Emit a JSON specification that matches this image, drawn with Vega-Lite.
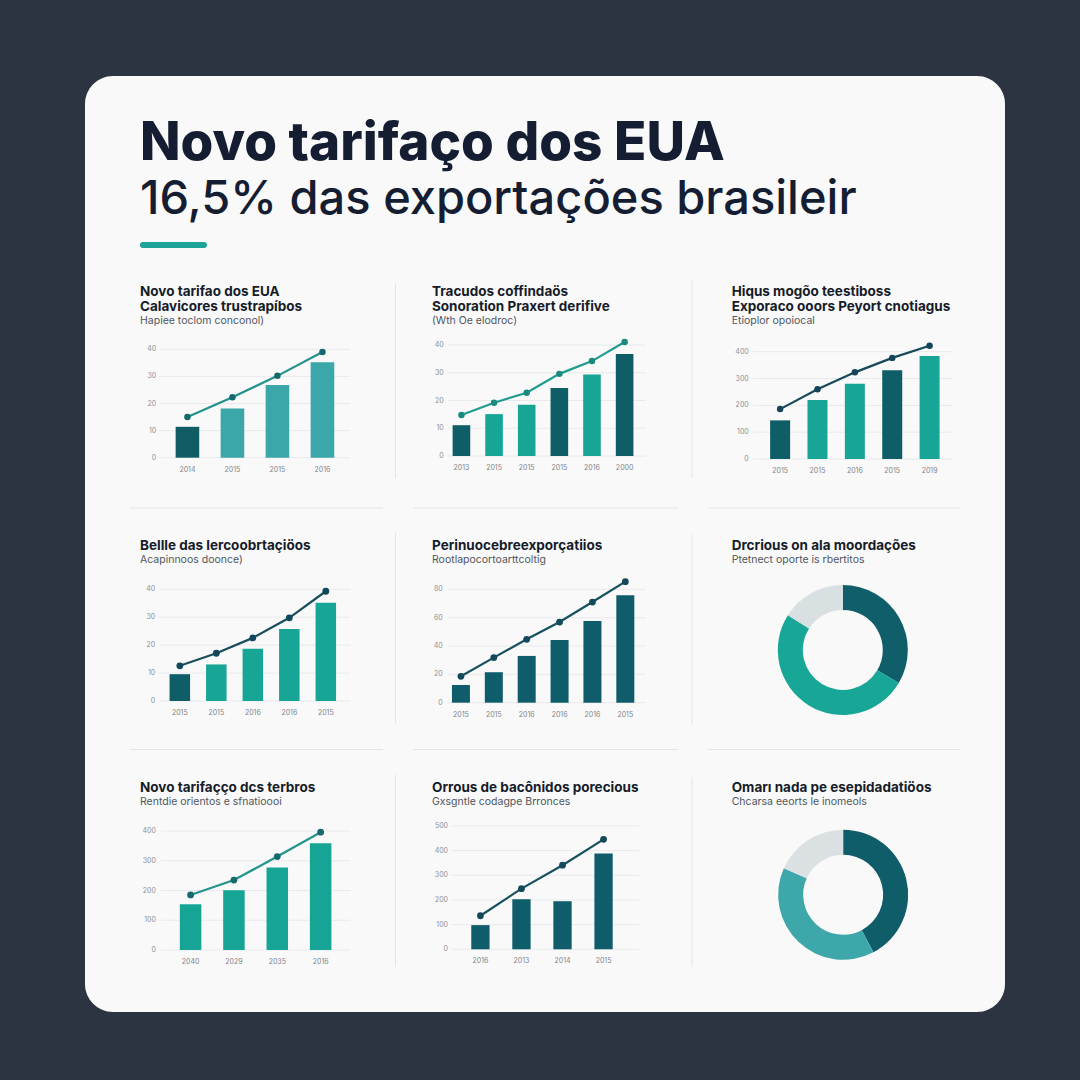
{
  "$schema": "https://vega.github.io/schema/vega-lite/v6.json",
  "background": "#2c3442",
  "padding": {"left": 85, "top": 76, "right": 75, "bottom": 68},
  "width": 920,
  "height": 936,
  "config": {
    "font": "Inter",
    "view": {"stroke": null, "fill": "#f9f9f9", "cornerRadius": 28},
    "text": {"font": "Inter"}
  },
  "title": {
    "text": "Novo tarifaço dos EUA",
    "subtitle": "16,5% das exportações brasileir",
    "orient": "bottom", "anchor": "start", "frame": "group",
    "offset": -894, "dx": 55,
    "font": "Inter", "fontSize": 53, "fontWeight": 800, "color": "#141d31",
    "subtitleFont": "Inter", "subtitleFontSize": 47, "subtitleFontWeight": 500, "subtitleColor": "#141d31", "subtitlePadding": 6
  },
  "datasets": {
    "um": [{"n": 1}],
    "grade40": [{"v": 0}, {"v": 10}, {"v": 20}, {"v": 30}, {"v": 40}],
    "grade80": [{"v": 0}, {"v": 20}, {"v": 40}, {"v": 60}, {"v": 80}],
    "grade400": [{"v": 0}, {"v": 100}, {"v": 200}, {"v": 300}, {"v": 400}],
    "grade500": [{"v": 0}, {"v": 100}, {"v": 200}, {"v": 300}, {"v": 400}, {"v": 500}]
  },
  "resolve": {"scale": {"x": "independent", "y": "independent", "color": "independent", "theta": "independent"}},
  "layer": [
    {
      "data": {"name": "um"},
      "layer": [
        {"mark": {"type": "rule", "color": "#1ea496", "strokeWidth": 6, "strokeCap": "round"},
         "encoding": {"x": {"datum": 0.063, "type": "quantitative", "scale": {"domain": [0, 1], "nice": false, "zero": false}, "axis": null}, "x2": {"datum": 0.1293},
                      "y": {"datum": 0.8194, "type": "quantitative", "scale": {"domain": [0, 1], "nice": false, "zero": false}, "axis": null}}},
        {"mark": {"type": "rule", "color": "#e3e5e8", "strokeWidth": 1},
         "encoding": {"x": {"datum": 0.3375, "type": "quantitative", "scale": {"domain": [0, 1], "nice": false, "zero": false}, "axis": null},
                      "y": {"datum": 0.77885, "type": "quantitative", "scale": {"domain": [0, 1], "nice": false, "zero": false}, "axis": null}, "y2": {"datum": 0.57051}}},
        {"mark": {"type": "rule", "color": "#e3e5e8", "strokeWidth": 1},
         "encoding": {"x": {"datum": 0.3375, "type": "quantitative", "scale": {"domain": [0, 1], "nice": false, "zero": false}, "axis": null},
                      "y": {"datum": 0.51175, "type": "quantitative", "scale": {"domain": [0, 1], "nice": false, "zero": false}, "axis": null}, "y2": {"datum": 0.30876}}},
        {"mark": {"type": "rule", "color": "#e3e5e8", "strokeWidth": 1},
         "encoding": {"x": {"datum": 0.3375, "type": "quantitative", "scale": {"domain": [0, 1], "nice": false, "zero": false}, "axis": null},
                      "y": {"datum": 0.25321, "type": "quantitative", "scale": {"domain": [0, 1], "nice": false, "zero": false}, "axis": null}, "y2": {"datum": 0.04808}}},
        {"mark": {"type": "rule", "color": "#e3e5e8", "strokeWidth": 1},
         "encoding": {"x": {"datum": 0.65978, "type": "quantitative", "scale": {"domain": [0, 1], "nice": false, "zero": false}, "axis": null},
                      "y": {"datum": 0.78205, "type": "quantitative", "scale": {"domain": [0, 1], "nice": false, "zero": false}, "axis": null}, "y2": {"datum": 0.57051}}},
        {"mark": {"type": "rule", "color": "#e3e5e8", "strokeWidth": 1},
         "encoding": {"x": {"datum": 0.65978, "type": "quantitative", "scale": {"domain": [0, 1], "nice": false, "zero": false}, "axis": null},
                      "y": {"datum": 0.50962, "type": "quantitative", "scale": {"domain": [0, 1], "nice": false, "zero": false}, "axis": null}, "y2": {"datum": 0.30662}}},
        {"mark": {"type": "rule", "color": "#e3e5e8", "strokeWidth": 1},
         "encoding": {"x": {"datum": 0.65978, "type": "quantitative", "scale": {"domain": [0, 1], "nice": false, "zero": false}, "axis": null},
                      "y": {"datum": 0.25107, "type": "quantitative", "scale": {"domain": [0, 1], "nice": false, "zero": false}, "axis": null}, "y2": {"datum": 0.04808}}},
        {"mark": {"type": "rule", "color": "#e3e5e8", "strokeWidth": 1},
         "encoding": {"x": {"datum": 0.04891, "type": "quantitative", "scale": {"domain": [0, 1], "nice": false, "zero": false}, "axis": null}, "x2": {"datum": 0.32391},
                      "y": {"datum": 0.53846, "type": "quantitative", "scale": {"domain": [0, 1], "nice": false, "zero": false}, "axis": null}}},
        {"mark": {"type": "rule", "color": "#e3e5e8", "strokeWidth": 1},
         "encoding": {"x": {"datum": 0.35652, "type": "quantitative", "scale": {"domain": [0, 1], "nice": false, "zero": false}, "axis": null}, "x2": {"datum": 0.64457},
                      "y": {"datum": 0.53846, "type": "quantitative", "scale": {"domain": [0, 1], "nice": false, "zero": false}, "axis": null}}},
        {"mark": {"type": "rule", "color": "#e3e5e8", "strokeWidth": 1},
         "encoding": {"x": {"datum": 0.67717, "type": "quantitative", "scale": {"domain": [0, 1], "nice": false, "zero": false}, "axis": null}, "x2": {"datum": 0.95109},
                      "y": {"datum": 0.53846, "type": "quantitative", "scale": {"domain": [0, 1], "nice": false, "zero": false}, "axis": null}}},
        {"mark": {"type": "rule", "color": "#e3e5e8", "strokeWidth": 1},
         "encoding": {"x": {"datum": 0.04891, "type": "quantitative", "scale": {"domain": [0, 1], "nice": false, "zero": false}, "axis": null}, "x2": {"datum": 0.32391},
                      "y": {"datum": 0.28045, "type": "quantitative", "scale": {"domain": [0, 1], "nice": false, "zero": false}, "axis": null}}},
        {"mark": {"type": "rule", "color": "#e3e5e8", "strokeWidth": 1},
         "encoding": {"x": {"datum": 0.35652, "type": "quantitative", "scale": {"domain": [0, 1], "nice": false, "zero": false}, "axis": null}, "x2": {"datum": 0.64457},
                      "y": {"datum": 0.28045, "type": "quantitative", "scale": {"domain": [0, 1], "nice": false, "zero": false}, "axis": null}}},
        {"mark": {"type": "rule", "color": "#e3e5e8", "strokeWidth": 1},
         "encoding": {"x": {"datum": 0.67717, "type": "quantitative", "scale": {"domain": [0, 1], "nice": false, "zero": false}, "axis": null}, "x2": {"datum": 0.95109},
                      "y": {"datum": 0.28045, "type": "quantitative", "scale": {"domain": [0, 1], "nice": false, "zero": false}, "axis": null}}},

        {"mark": {"type": "text", "align": "left", "baseline": "alphabetic", "fontSize": 13.5, "fontWeight": 700, "color": "#161c29", "lineHeight": 15},
         "encoding": {"x": {"datum": 0.05978, "type": "quantitative", "scale": {"domain": [0, 1], "nice": false, "zero": false}, "axis": null},
                      "y": {"datum": 0.76549, "type": "quantitative", "scale": {"domain": [0, 1], "nice": false, "zero": false}, "axis": null},
                      "text": {"value": ["Novo tarifao dos EUA", "Calavicores trustrapíbos"]}}},
        {"mark": {"type": "text", "align": "left", "baseline": "alphabetic", "fontSize": 10.5, "color": "#50555c"},
         "encoding": {"x": {"datum": 0.05978, "type": "quantitative", "scale": {"domain": [0, 1], "nice": false, "zero": false}, "axis": null},
                      "y": {"datum": 0.73504, "type": "quantitative", "scale": {"domain": [0, 1], "nice": false, "zero": false}, "axis": null},
                      "text": {"value": "Hapiee toclom conconol)"}}},
        {"mark": {"type": "text", "align": "left", "baseline": "alphabetic", "fontSize": 13.5, "fontWeight": 700, "color": "#161c29", "lineHeight": 15},
         "encoding": {"x": {"datum": 0.37717, "type": "quantitative", "scale": {"domain": [0, 1], "nice": false, "zero": false}, "axis": null},
                      "y": {"datum": 0.76549, "type": "quantitative", "scale": {"domain": [0, 1], "nice": false, "zero": false}, "axis": null},
                      "text": {"value": ["Tracudos coffindaös", "Sonoration Praxert derifive"]}}},
        {"mark": {"type": "text", "align": "left", "baseline": "alphabetic", "fontSize": 10.5, "color": "#50555c"},
         "encoding": {"x": {"datum": 0.37717, "type": "quantitative", "scale": {"domain": [0, 1], "nice": false, "zero": false}, "axis": null},
                      "y": {"datum": 0.73504, "type": "quantitative", "scale": {"domain": [0, 1], "nice": false, "zero": false}, "axis": null},
                      "text": {"value": "(Wth Oe elodroc)"}}},
        {"mark": {"type": "text", "align": "left", "baseline": "alphabetic", "fontSize": 13.5, "fontWeight": 700, "color": "#161c29", "lineHeight": 15},
         "encoding": {"x": {"datum": 0.70293, "type": "quantitative", "scale": {"domain": [0, 1], "nice": false, "zero": false}, "axis": null},
                      "y": {"datum": 0.76549, "type": "quantitative", "scale": {"domain": [0, 1], "nice": false, "zero": false}, "axis": null},
                      "text": {"value": ["Hiqus mogõo teestiboss", "Exporaco ooors Peyort cnotiagus"]}}},
        {"mark": {"type": "text", "align": "left", "baseline": "alphabetic", "fontSize": 10.5, "color": "#50555c"},
         "encoding": {"x": {"datum": 0.70293, "type": "quantitative", "scale": {"domain": [0, 1], "nice": false, "zero": false}, "axis": null},
                      "y": {"datum": 0.73504, "type": "quantitative", "scale": {"domain": [0, 1], "nice": false, "zero": false}, "axis": null},
                      "text": {"value": "Etioplor opoiocal"}}},

        {"mark": {"type": "text", "align": "left", "baseline": "alphabetic", "fontSize": 13.5, "fontWeight": 700, "color": "#161c29"},
         "encoding": {"x": {"datum": 0.05978, "type": "quantitative", "scale": {"domain": [0, 1], "nice": false, "zero": false}, "axis": null},
                      "y": {"datum": 0.49359, "type": "quantitative", "scale": {"domain": [0, 1], "nice": false, "zero": false}, "axis": null},
                      "text": {"value": "Bellle das lercoobrtaçiöos"}}},
        {"mark": {"type": "text", "align": "left", "baseline": "alphabetic", "fontSize": 10.5, "color": "#50555c"},
         "encoding": {"x": {"datum": 0.05978, "type": "quantitative", "scale": {"domain": [0, 1], "nice": false, "zero": false}, "axis": null},
                      "y": {"datum": 0.47938, "type": "quantitative", "scale": {"domain": [0, 1], "nice": false, "zero": false}, "axis": null},
                      "text": {"value": "Acapinnoos doonce)"}}},
        {"mark": {"type": "text", "align": "left", "baseline": "alphabetic", "fontSize": 13.5, "fontWeight": 700, "color": "#161c29"},
         "encoding": {"x": {"datum": 0.37717, "type": "quantitative", "scale": {"domain": [0, 1], "nice": false, "zero": false}, "axis": null},
                      "y": {"datum": 0.49359, "type": "quantitative", "scale": {"domain": [0, 1], "nice": false, "zero": false}, "axis": null},
                      "text": {"value": "Perinuocebreexporçatiios"}}},
        {"mark": {"type": "text", "align": "left", "baseline": "alphabetic", "fontSize": 10.5, "color": "#50555c"},
         "encoding": {"x": {"datum": 0.37717, "type": "quantitative", "scale": {"domain": [0, 1], "nice": false, "zero": false}, "axis": null},
                      "y": {"datum": 0.47938, "type": "quantitative", "scale": {"domain": [0, 1], "nice": false, "zero": false}, "axis": null},
                      "text": {"value": "Rootlapocortoarttcoltig"}}},
        {"mark": {"type": "text", "align": "left", "baseline": "alphabetic", "fontSize": 13.5, "fontWeight": 700, "color": "#161c29"},
         "encoding": {"x": {"datum": 0.70293, "type": "quantitative", "scale": {"domain": [0, 1], "nice": false, "zero": false}, "axis": null},
                      "y": {"datum": 0.49359, "type": "quantitative", "scale": {"domain": [0, 1], "nice": false, "zero": false}, "axis": null},
                      "text": {"value": "Drcrious on ala moordações"}}},
        {"mark": {"type": "text", "align": "left", "baseline": "alphabetic", "fontSize": 10.5, "color": "#50555c"},
         "encoding": {"x": {"datum": 0.70293, "type": "quantitative", "scale": {"domain": [0, 1], "nice": false, "zero": false}, "axis": null},
                      "y": {"datum": 0.47938, "type": "quantitative", "scale": {"domain": [0, 1], "nice": false, "zero": false}, "axis": null},
                      "text": {"value": "Ptetnect oporte is rbertitos"}}},

        {"mark": {"type": "text", "align": "left", "baseline": "alphabetic", "fontSize": 13.5, "fontWeight": 700, "color": "#161c29"},
         "encoding": {"x": {"datum": 0.05978, "type": "quantitative", "scale": {"domain": [0, 1], "nice": false, "zero": false}, "axis": null},
                      "y": {"datum": 0.23536, "type": "quantitative", "scale": {"domain": [0, 1], "nice": false, "zero": false}, "axis": null},
                      "text": {"value": "Novo tarifaçço dcs terbros"}}},
        {"mark": {"type": "text", "align": "left", "baseline": "alphabetic", "fontSize": 10.5, "color": "#50555c"},
         "encoding": {"x": {"datum": 0.05978, "type": "quantitative", "scale": {"domain": [0, 1], "nice": false, "zero": false}, "axis": null},
                      "y": {"datum": 0.22115, "type": "quantitative", "scale": {"domain": [0, 1], "nice": false, "zero": false}, "axis": null},
                      "text": {"value": "Rentdie orientos e sfnatioooi"}}},
        {"mark": {"type": "text", "align": "left", "baseline": "alphabetic", "fontSize": 13.5, "fontWeight": 700, "color": "#161c29"},
         "encoding": {"x": {"datum": 0.37717, "type": "quantitative", "scale": {"domain": [0, 1], "nice": false, "zero": false}, "axis": null},
                      "y": {"datum": 0.23536, "type": "quantitative", "scale": {"domain": [0, 1], "nice": false, "zero": false}, "axis": null},
                      "text": {"value": "Orrous de bacônidos porecious"}}},
        {"mark": {"type": "text", "align": "left", "baseline": "alphabetic", "fontSize": 10.5, "color": "#50555c"},
         "encoding": {"x": {"datum": 0.37717, "type": "quantitative", "scale": {"domain": [0, 1], "nice": false, "zero": false}, "axis": null},
                      "y": {"datum": 0.22115, "type": "quantitative", "scale": {"domain": [0, 1], "nice": false, "zero": false}, "axis": null},
                      "text": {"value": "Gxsgntle codagpe Brronces"}}},
        {"mark": {"type": "text", "align": "left", "baseline": "alphabetic", "fontSize": 13.5, "fontWeight": 700, "color": "#161c29"},
         "encoding": {"x": {"datum": 0.70293, "type": "quantitative", "scale": {"domain": [0, 1], "nice": false, "zero": false}, "axis": null},
                      "y": {"datum": 0.23536, "type": "quantitative", "scale": {"domain": [0, 1], "nice": false, "zero": false}, "axis": null},
                      "text": {"value": "Omarı nada pe esepidadatiöos"}}},
        {"mark": {"type": "text", "align": "left", "baseline": "alphabetic", "fontSize": 10.5, "color": "#50555c"},
         "encoding": {"x": {"datum": 0.70293, "type": "quantitative", "scale": {"domain": [0, 1], "nice": false, "zero": false}, "axis": null},
                      "y": {"datum": 0.22115, "type": "quantitative", "scale": {"domain": [0, 1], "nice": false, "zero": false}, "axis": null},
                      "text": {"value": "Chcarsa eeorts le inomeols"}}}
      ]
    },
    {
      "data": {"values": [
        {"i": 1, "ano": "2014", "barra": 11.4, "linha": 15.0, "serie": "A"},
        {"i": 2, "ano": "2015", "barra": 18.2, "linha": 22.3, "serie": "B"},
        {"i": 3, "ano": "2015", "barra": 26.8, "linha": 30.2, "serie": "B"},
        {"i": 4, "ano": "2016", "barra": 35.2, "linha": 39.0, "serie": "B"}
      ]},
      "layer": [
        {"data": {"name": "grade40"}, "mark": {"type": "rule", "color": "#e8eaec", "strokeWidth": 1},
         "encoding": {"y": {"field": "v", "type": "quantitative", "scale": {"domain": [-204.54, 140.85], "nice": false, "zero": false}, "axis": null},
                      "x": {"datum": 0.374, "type": "quantitative", "scale": {"domain": [-1.165, 19.055], "nice": false, "zero": false}, "axis": null},
                      "x2": {"datum": 4.615}}},
        {"data": {"name": "grade40"}, "mark": {"type": "text", "align": "right", "baseline": "middle", "dx": -3, "fontSize": 7, "color": "#8c9197"},
         "encoding": {"y": {"field": "v", "type": "quantitative", "scale": {"domain": [-204.54, 140.85], "nice": false, "zero": false}, "axis": null},
                      "x": {"datum": 0.374, "type": "quantitative", "scale": {"domain": [-1.165, 19.055], "nice": false, "zero": false}, "axis": null},
                      "text": {"field": "v", "type": "quantitative"}}},
        {"mark": {"type": "bar", "width": 23.6},
         "encoding": {"x": {"field": "i", "type": "quantitative", "scale": {"domain": [-1.165, 19.055], "nice": false, "zero": false}, "axis": null},
                      "y": {"field": "barra", "type": "quantitative", "scale": {"domain": [-204.54, 140.85], "nice": false, "zero": false}, "axis": null},
                      "y2": {"datum": 0},
                      "color": {"field": "serie", "type": "nominal", "scale": {"domain": ["A", "B"], "range": ["#0f5c63", "#3ba7a8"]}, "legend": null}}},
        {"mark": {"type": "line", "color": "#23918c", "strokeWidth": 2.2, "point": {"filled": true, "size": 42, "color": "#14696d"}},
         "encoding": {"x": {"field": "i", "type": "quantitative", "scale": {"domain": [-1.165, 19.055], "nice": false, "zero": false}, "axis": null},
                      "y": {"field": "linha", "type": "quantitative", "scale": {"domain": [-204.54, 140.85], "nice": false, "zero": false}, "axis": null}}},
        {"mark": {"type": "text", "baseline": "middle", "dy": 12, "fontSize": 7, "color": "#80858b"},
         "encoding": {"x": {"field": "i", "type": "quantitative", "scale": {"domain": [-1.165, 19.055], "nice": false, "zero": false}, "axis": null},
                      "y": {"datum": 0, "type": "quantitative", "scale": {"domain": [-204.54, 140.85], "nice": false, "zero": false}, "axis": null},
                      "text": {"field": "ano"}}}
      ]
    },
    {
      "data": {"values": [
        {"i": 1, "ano": "2013", "barra": 11.1, "linha": 14.8, "serie": "A"},
        {"i": 2, "ano": "2015", "barra": 15.1, "linha": 19.2, "serie": "B"},
        {"i": 3, "ano": "2015", "barra": 18.5, "linha": 22.8, "serie": "B"},
        {"i": 4, "ano": "2015", "barra": 24.5, "linha": 29.6, "serie": "A"},
        {"i": 5, "ano": "2016", "barra": 29.4, "linha": 34.2, "serie": "B"},
        {"i": 6, "ano": "2000", "barra": 36.8, "linha": 41.1, "serie": "A"}
      ]},
      "layer": [
        {"data": {"name": "grade40"}, "mark": {"type": "rule", "color": "#e8eaec", "strokeWidth": 1},
         "encoding": {"y": {"field": "v", "type": "quantitative", "scale": {"domain": [-200.36, 136.94], "nice": false, "zero": false}, "axis": null},
                      "x": {"datum": 0.582, "type": "quantitative", "scale": {"domain": [-10.379, 17.5], "nice": false, "zero": false}, "axis": null},
                      "x2": {"datum": 6.642}}},
        {"data": {"name": "grade40"}, "mark": {"type": "text", "align": "right", "baseline": "middle", "dx": -4, "fontSize": 7, "color": "#8c9197"},
         "encoding": {"y": {"field": "v", "type": "quantitative", "scale": {"domain": [-200.36, 136.94], "nice": false, "zero": false}, "axis": null},
                      "x": {"datum": 0.582, "type": "quantitative", "scale": {"domain": [-10.379, 17.5], "nice": false, "zero": false}, "axis": null},
                      "text": {"field": "v", "type": "quantitative"}}},
        {"mark": {"type": "bar", "width": 17.6},
         "encoding": {"x": {"field": "i", "type": "quantitative", "scale": {"domain": [-10.379, 17.5], "nice": false, "zero": false}, "axis": null},
                      "y": {"field": "barra", "type": "quantitative", "scale": {"domain": [-200.36, 136.94], "nice": false, "zero": false}, "axis": null},
                      "y2": {"datum": 0},
                      "color": {"field": "serie", "type": "nominal", "scale": {"domain": ["A", "B"], "range": ["#0f5d66", "#17a595"]}, "legend": null}}},
        {"mark": {"type": "line", "color": "#1e9c8e", "strokeWidth": 2.2, "point": {"filled": true, "size": 42, "color": "#1a8a7f"}},
         "encoding": {"x": {"field": "i", "type": "quantitative", "scale": {"domain": [-10.379, 17.5], "nice": false, "zero": false}, "axis": null},
                      "y": {"field": "linha", "type": "quantitative", "scale": {"domain": [-200.36, 136.94], "nice": false, "zero": false}, "axis": null}}},
        {"mark": {"type": "text", "baseline": "middle", "dy": 12, "fontSize": 7, "color": "#80858b"},
         "encoding": {"x": {"field": "i", "type": "quantitative", "scale": {"domain": [-10.379, 17.5], "nice": false, "zero": false}, "axis": null},
                      "y": {"datum": 0, "type": "quantitative", "scale": {"domain": [-200.36, 136.94], "nice": false, "zero": false}, "axis": null},
                      "text": {"field": "ano"}}}
      ]
    },
    {
      "data": {"values": [
        {"i": 1, "ano": "2015", "barra": 144, "linha": 186, "serie": "A"},
        {"i": 2, "ano": "2015", "barra": 220, "linha": 260, "serie": "B"},
        {"i": 3, "ano": "2016", "barra": 281, "linha": 323, "serie": "B"},
        {"i": 4, "ano": "2015", "barra": 331, "linha": 377, "serie": "A"},
        {"i": 5, "ano": "2019", "barra": 384, "linha": 422, "serie": "B"}
      ]},
      "layer": [
        {"data": {"name": "grade400"}, "mark": {"type": "rule", "color": "#e8eaec", "strokeWidth": 1},
         "encoding": {"y": {"field": "v", "type": "quantitative", "scale": {"domain": [-2061.5, 1427.8], "nice": false, "zero": false}, "axis": null},
                      "x": {"datum": 0.267, "type": "quantitative", "scale": {"domain": [-17.467, 6.884], "nice": false, "zero": false}, "axis": null},
                      "x2": {"datum": 5.606}}},
        {"data": {"name": "grade400"}, "mark": {"type": "text", "align": "right", "baseline": "middle", "dx": -4, "fontSize": 7, "color": "#8c9197"},
         "encoding": {"y": {"field": "v", "type": "quantitative", "scale": {"domain": [-2061.5, 1427.8], "nice": false, "zero": false}, "axis": null},
                      "x": {"datum": 0.267, "type": "quantitative", "scale": {"domain": [-17.467, 6.884], "nice": false, "zero": false}, "axis": null},
                      "text": {"field": "v", "type": "quantitative"}}},
        {"mark": {"type": "bar", "width": 20},
         "encoding": {"x": {"field": "i", "type": "quantitative", "scale": {"domain": [-17.467, 6.884], "nice": false, "zero": false}, "axis": null},
                      "y": {"field": "barra", "type": "quantitative", "scale": {"domain": [-2061.5, 1427.8], "nice": false, "zero": false}, "axis": null},
                      "y2": {"datum": 0},
                      "color": {"field": "serie", "type": "nominal", "scale": {"domain": ["A", "B"], "range": ["#0f5d66", "#17a595"]}, "legend": null}}},
        {"mark": {"type": "line", "color": "#17495a", "strokeWidth": 2.2, "point": {"filled": true, "size": 42, "color": "#14455a"}},
         "encoding": {"x": {"field": "i", "type": "quantitative", "scale": {"domain": [-17.467, 6.884], "nice": false, "zero": false}, "axis": null},
                      "y": {"field": "linha", "type": "quantitative", "scale": {"domain": [-2061.5, 1427.8], "nice": false, "zero": false}, "axis": null}}},
        {"mark": {"type": "text", "baseline": "middle", "dy": 12, "fontSize": 7, "color": "#80858b"},
         "encoding": {"x": {"field": "i", "type": "quantitative", "scale": {"domain": [-17.467, 6.884], "nice": false, "zero": false}, "axis": null},
                      "y": {"datum": 0, "type": "quantitative", "scale": {"domain": [-2061.5, 1427.8], "nice": false, "zero": false}, "axis": null},
                      "text": {"field": "ano"}}}
      ]
    },
    {
      "data": {"values": [
        {"i": 1, "ano": "2015", "barra": 9.6, "linha": 12.6, "serie": "A"},
        {"i": 2, "ano": "2015", "barra": 13.1, "linha": 17.1, "serie": "B"},
        {"i": 3, "ano": "2016", "barra": 18.7, "linha": 22.6, "serie": "B"},
        {"i": 4, "ano": "2016", "barra": 25.8, "linha": 29.8, "serie": "B"},
        {"i": 5, "ano": "2015", "barra": 35.2, "linha": 39.3, "serie": "B"}
      ]},
      "layer": [
        {"data": {"name": "grade40"}, "mark": {"type": "rule", "color": "#e8eaec", "strokeWidth": 1},
         "encoding": {"y": {"field": "v", "type": "quantitative", "scale": {"domain": [-111.37, 223.81], "nice": false, "zero": false}, "axis": null},
                      "x": {"datum": 0.436, "type": "quantitative", "scale": {"domain": [-1.461, 23.472], "nice": false, "zero": false}, "axis": null},
                      "x2": {"datum": 5.675}}},
        {"data": {"name": "grade40"}, "mark": {"type": "text", "align": "right", "baseline": "middle", "dx": -4, "fontSize": 7, "color": "#8c9197"},
         "encoding": {"y": {"field": "v", "type": "quantitative", "scale": {"domain": [-111.37, 223.81], "nice": false, "zero": false}, "axis": null},
                      "x": {"datum": 0.436, "type": "quantitative", "scale": {"domain": [-1.461, 23.472], "nice": false, "zero": false}, "axis": null},
                      "text": {"field": "v", "type": "quantitative"}}},
        {"mark": {"type": "bar", "width": 20.5},
         "encoding": {"x": {"field": "i", "type": "quantitative", "scale": {"domain": [-1.461, 23.472], "nice": false, "zero": false}, "axis": null},
                      "y": {"field": "barra", "type": "quantitative", "scale": {"domain": [-111.37, 223.81], "nice": false, "zero": false}, "axis": null},
                      "y2": {"datum": 0},
                      "color": {"field": "serie", "type": "nominal", "scale": {"domain": ["A", "B"], "range": ["#0f5d66", "#17a595"]}, "legend": null}}},
        {"mark": {"type": "line", "color": "#1a4e5d", "strokeWidth": 2.2, "point": {"filled": true, "size": 46, "color": "#10485a"}},
         "encoding": {"x": {"field": "i", "type": "quantitative", "scale": {"domain": [-1.461, 23.472], "nice": false, "zero": false}, "axis": null},
                      "y": {"field": "linha", "type": "quantitative", "scale": {"domain": [-111.37, 223.81], "nice": false, "zero": false}, "axis": null}}},
        {"mark": {"type": "text", "baseline": "middle", "dy": 12, "fontSize": 7, "color": "#80858b"},
         "encoding": {"x": {"field": "i", "type": "quantitative", "scale": {"domain": [-1.461, 23.472], "nice": false, "zero": false}, "axis": null},
                      "y": {"datum": 0, "type": "quantitative", "scale": {"domain": [-111.37, 223.81], "nice": false, "zero": false}, "axis": null},
                      "text": {"field": "ano"}}}
      ]
    },
    {
      "data": {"values": [
        {"i": 1, "ano": "2015", "barra": 12.5, "linha": 18.6, "serie": "A"},
        {"i": 2, "ano": "2015", "barra": 21.5, "linha": 31.8, "serie": "A"},
        {"i": 3, "ano": "2016", "barra": 33.0, "linha": 44.7, "serie": "A"},
        {"i": 4, "ano": "2016", "barra": 44.2, "linha": 56.9, "serie": "A"},
        {"i": 5, "ano": "2016", "barra": 57.6, "linha": 71.0, "serie": "A"},
        {"i": 6, "ano": "2015", "barra": 75.8, "linha": 85.4, "serie": "A"}
      ]},
      "layer": [
        {"data": {"name": "grade80"}, "mark": {"type": "rule", "color": "#e8eaec", "strokeWidth": 1},
         "encoding": {"y": {"field": "v", "type": "quantitative", "scale": {"domain": [-218.2, 442.1], "nice": false, "zero": false}, "axis": null},
                      "x": {"datum": 0.6, "type": "quantitative", "scale": {"domain": [-10.282, 17.396], "nice": false, "zero": false}, "axis": null},
                      "x2": {"datum": 6.617}}},
        {"data": {"name": "grade80"}, "mark": {"type": "text", "align": "right", "baseline": "middle", "dx": -5, "fontSize": 7, "color": "#8c9197"},
         "encoding": {"y": {"field": "v", "type": "quantitative", "scale": {"domain": [-218.2, 442.1], "nice": false, "zero": false}, "axis": null},
                      "x": {"datum": 0.6, "type": "quantitative", "scale": {"domain": [-10.282, 17.396], "nice": false, "zero": false}, "axis": null},
                      "text": {"field": "v", "type": "quantitative"}}},
        {"mark": {"type": "bar", "width": 18},
         "encoding": {"x": {"field": "i", "type": "quantitative", "scale": {"domain": [-10.282, 17.396], "nice": false, "zero": false}, "axis": null},
                      "y": {"field": "barra", "type": "quantitative", "scale": {"domain": [-218.2, 442.1], "nice": false, "zero": false}, "axis": null},
                      "y2": {"datum": 0},
                      "color": {"field": "serie", "type": "nominal", "scale": {"domain": ["A", "B"], "range": ["#0f5d6b", "#17a595"]}, "legend": null}}},
        {"mark": {"type": "line", "color": "#17505f", "strokeWidth": 2.2, "point": {"filled": true, "size": 46, "color": "#124a5b"}},
         "encoding": {"x": {"field": "i", "type": "quantitative", "scale": {"domain": [-10.282, 17.396], "nice": false, "zero": false}, "axis": null},
                      "y": {"field": "linha", "type": "quantitative", "scale": {"domain": [-218.2, 442.1], "nice": false, "zero": false}, "axis": null}}},
        {"mark": {"type": "text", "baseline": "middle", "dy": 12, "fontSize": 7, "color": "#80858b"},
         "encoding": {"x": {"field": "i", "type": "quantitative", "scale": {"domain": [-10.282, 17.396], "nice": false, "zero": false}, "axis": null},
                      "y": {"datum": 0, "type": "quantitative", "scale": {"domain": [-218.2, 442.1], "nice": false, "zero": false}, "axis": null},
                      "text": {"field": "ano"}}}
      ]
    },
    {
      "data": {"values": [
        {"fatia": "A", "valor": 33.5, "ordem": 1},
        {"fatia": "B", "valor": 50.5, "ordem": 2},
        {"fatia": "C", "valor": 16.0, "ordem": 3}
      ]},
      "mark": {"type": "arc", "radius": 65, "innerRadius": 40},
      "encoding": {
        "x": {"datum": 0.8237, "type": "quantitative", "scale": {"domain": [0, 1], "nice": false, "zero": false}, "axis": null},
        "y": {"datum": 0.3868, "type": "quantitative", "scale": {"domain": [0, 1], "nice": false, "zero": false}, "axis": null},
        "theta": {"field": "valor", "type": "quantitative", "stack": true},
        "order": {"field": "ordem", "type": "quantitative"},
        "color": {"field": "fatia", "type": "nominal", "scale": {"domain": ["A", "B", "C"], "range": ["#0f5e69", "#18a797", "#d9e0e1"]}, "legend": null}
      }
    },
    {
      "data": {"values": [
        {"i": 1, "ano": "2040", "barra": 154, "linha": 185, "serie": "B"},
        {"i": 2, "ano": "2029", "barra": 201, "linha": 235, "serie": "B"},
        {"i": 3, "ano": "2035", "barra": 277, "linha": 314, "serie": "B"},
        {"i": 4, "ano": "2016", "barra": 359, "linha": 396, "serie": "B"}
      ]},
      "layer": [
        {"data": {"name": "grade400"}, "mark": {"type": "rule", "color": "#e8eaec", "strokeWidth": 1},
         "encoding": {"y": {"field": "v", "type": "quantitative", "scale": {"domain": [-208.4, 2937.8], "nice": false, "zero": false}, "axis": null},
                      "x": {"datum": 0.3156, "type": "quantitative", "scale": {"domain": [-1.32, 19.67], "nice": false, "zero": false}, "axis": null},
                      "x2": {"datum": 4.687}}},
        {"data": {"name": "grade400"}, "mark": {"type": "text", "align": "right", "baseline": "middle", "dx": -5, "fontSize": 7, "color": "#8c9197"},
         "encoding": {"y": {"field": "v", "type": "quantitative", "scale": {"domain": [-208.4, 2937.8], "nice": false, "zero": false}, "axis": null},
                      "x": {"datum": 0.3156, "type": "quantitative", "scale": {"domain": [-1.32, 19.67], "nice": false, "zero": false}, "axis": null},
                      "text": {"field": "v", "type": "quantitative"}}},
        {"mark": {"type": "bar", "width": 21.5},
         "encoding": {"x": {"field": "i", "type": "quantitative", "scale": {"domain": [-1.32, 19.67], "nice": false, "zero": false}, "axis": null},
                      "y": {"field": "barra", "type": "quantitative", "scale": {"domain": [-208.4, 2937.8], "nice": false, "zero": false}, "axis": null},
                      "y2": {"datum": 0},
                      "color": {"field": "serie", "type": "nominal", "scale": {"domain": ["A", "B"], "range": ["#0f5d66", "#16a595"]}, "legend": null}}},
        {"mark": {"type": "line", "color": "#23958c", "strokeWidth": 2.2, "point": {"filled": true, "size": 46, "color": "#146a6e"}},
         "encoding": {"x": {"field": "i", "type": "quantitative", "scale": {"domain": [-1.32, 19.67], "nice": false, "zero": false}, "axis": null},
                      "y": {"field": "linha", "type": "quantitative", "scale": {"domain": [-208.4, 2937.8], "nice": false, "zero": false}, "axis": null}}},
        {"mark": {"type": "text", "baseline": "middle", "dy": 12, "fontSize": 7, "color": "#80858b"},
         "encoding": {"x": {"field": "i", "type": "quantitative", "scale": {"domain": [-1.32, 19.67], "nice": false, "zero": false}, "axis": null},
                      "y": {"datum": 0, "type": "quantitative", "scale": {"domain": [-208.4, 2937.8], "nice": false, "zero": false}, "axis": null},
                      "text": {"field": "ano"}}}
      ]
    },
    {
      "data": {"values": [
        {"i": 1, "ano": "2016", "barra": 98, "linha": 136, "serie": "A"},
        {"i": 2, "ano": "2013", "barra": 203, "linha": 246, "serie": "A"},
        {"i": 3, "ano": "2014", "barra": 195, "linha": 341, "serie": "A"},
        {"i": 4, "ano": "2015", "barra": 388, "linha": 446, "serie": "A"}
      ]},
      "layer": [
        {"data": {"name": "grade500"}, "mark": {"type": "rule", "color": "#e8eaec", "strokeWidth": 1},
         "encoding": {"y": {"field": "v", "type": "quantitative", "scale": {"domain": [-254.3, 3541.4], "nice": false, "zero": false}, "axis": null},
                      "x": {"datum": 0.284, "type": "quantitative", "scale": {"domain": [-8.511, 13.658], "nice": false, "zero": false}, "axis": null},
                      "x2": {"datum": 4.863}}},
        {"data": {"name": "grade500"}, "mark": {"type": "text", "align": "right", "baseline": "middle", "dx": -3, "fontSize": 7, "color": "#8c9197"},
         "encoding": {"y": {"field": "v", "type": "quantitative", "scale": {"domain": [-254.3, 3541.4], "nice": false, "zero": false}, "axis": null},
                      "x": {"datum": 0.284, "type": "quantitative", "scale": {"domain": [-8.511, 13.658], "nice": false, "zero": false}, "axis": null},
                      "text": {"field": "v", "type": "quantitative"}}},
        {"mark": {"type": "bar", "width": 18.3},
         "encoding": {"x": {"field": "i", "type": "quantitative", "scale": {"domain": [-8.511, 13.658], "nice": false, "zero": false}, "axis": null},
                      "y": {"field": "barra", "type": "quantitative", "scale": {"domain": [-254.3, 3541.4], "nice": false, "zero": false}, "axis": null},
                      "y2": {"datum": 0},
                      "color": {"field": "serie", "type": "nominal", "scale": {"domain": ["A", "B"], "range": ["#0f5d6b", "#17a595"]}, "legend": null}}},
        {"mark": {"type": "line", "color": "#17505f", "strokeWidth": 2.2, "point": {"filled": true, "size": 46, "color": "#124a5b"}},
         "encoding": {"x": {"field": "i", "type": "quantitative", "scale": {"domain": [-8.511, 13.658], "nice": false, "zero": false}, "axis": null},
                      "y": {"field": "linha", "type": "quantitative", "scale": {"domain": [-254.3, 3541.4], "nice": false, "zero": false}, "axis": null}}},
        {"mark": {"type": "text", "baseline": "middle", "dy": 12, "fontSize": 7, "color": "#80858b"},
         "encoding": {"x": {"field": "i", "type": "quantitative", "scale": {"domain": [-8.511, 13.658], "nice": false, "zero": false}, "axis": null},
                      "y": {"datum": 0, "type": "quantitative", "scale": {"domain": [-254.3, 3541.4], "nice": false, "zero": false}, "axis": null},
                      "text": {"field": "ano"}}}
      ]
    },
    {
      "data": {"values": [
        {"fatia": "A", "valor": 42.3, "ordem": 1},
        {"fatia": "B", "valor": 39.4, "ordem": 2},
        {"fatia": "C", "valor": 18.3, "ordem": 3}
      ]},
      "mark": {"type": "arc", "radius": 65, "innerRadius": 40},
      "encoding": {
        "x": {"datum": 0.8241, "type": "quantitative", "scale": {"domain": [0, 1], "nice": false, "zero": false}, "axis": null},
        "y": {"datum": 0.1253, "type": "quantitative", "scale": {"domain": [0, 1], "nice": false, "zero": false}, "axis": null},
        "theta": {"field": "valor", "type": "quantitative", "stack": true},
        "order": {"field": "ordem", "type": "quantitative"},
        "color": {"field": "fatia", "type": "nominal", "scale": {"domain": ["A", "B", "C"], "range": ["#0e5d68", "#3ea7a9", "#dbe1e2"]}, "legend": null}
      }
    }
  ]
}
